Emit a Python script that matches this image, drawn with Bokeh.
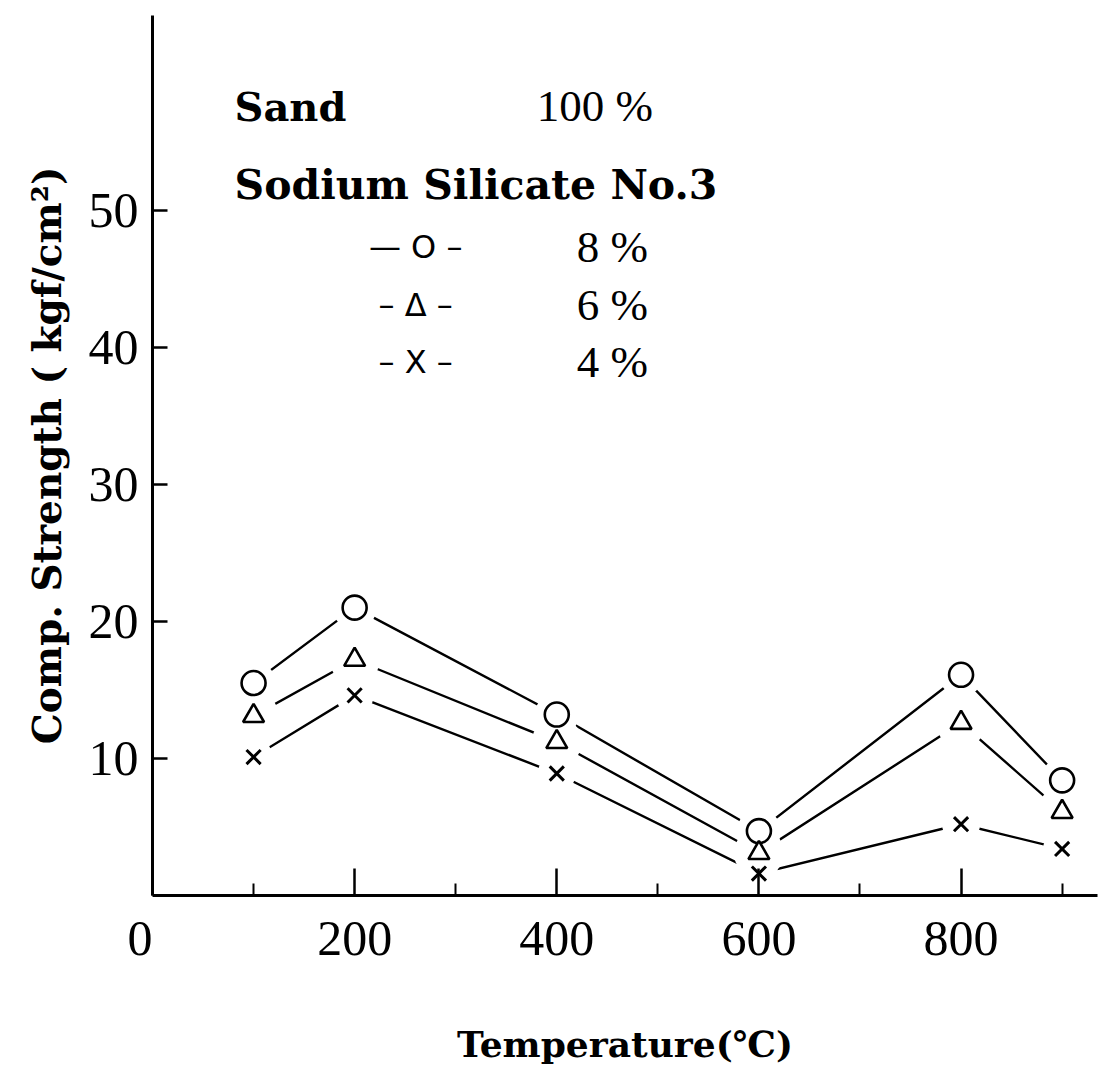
from bokeh.plotting import figure
from bokeh.models import FixedTicker, Label, Range1d
from bokeh.embed import file_html
from bokeh.resources import INLINE

# ---- data ----
temperature = [100, 200, 400, 600, 800, 900]
strength_8 = [15.5, 21.0, 13.2, 4.7, 16.1, 8.4]
strength_6 = [13.1, 17.2, 11.2, 3.1, 12.6, 6.1]
strength_4 = [10.1, 14.6, 8.9, 1.6, 5.2, 3.4]

x_ticks = [0, 200, 400, 600, 800]
x_minor_ticks = [100, 300, 500, 700, 900]
y_ticks = [10, 20, 30, 40, 50]

legend_rows = [("\u2014 O \u2013", "8 %"), ("\u2013 \u0394 \u2013", "6 %"), ("\u2013 X \u2013", "4 %")]

SERIF = "Liberation Serif"
BOLD_SERIF = "DejaVu Serif"

p = figure(width=1099, height=1067,
           x_range=Range1d(0, 935), y_range=Range1d(0, 64.2),
           output_backend="svg", toolbar_location=None,
           min_border_left=152, min_border_right=2,
           min_border_top=15, min_border_bottom=172)
p.outline_line_color = None
p.grid.visible = False
p.background_fill_color = "white"
p.border_fill_color = "white"

# ---- axes ----
xa = p.xaxis[0]
xa.ticker = FixedTicker(ticks=x_ticks, minor_ticks=x_minor_ticks)
xa.major_label_overrides = {x_ticks[0]: "0\u2007"}
xa.axis_line_width = 3
xa.axis_line_color = "black"
xa.major_tick_in = 27
xa.major_tick_out = 0
xa.major_tick_line_width = 2.5
xa.minor_tick_in = 12
xa.minor_tick_out = 0
xa.minor_tick_line_width = 2
xa.minor_tick_line_color = "black"
xa.major_label_text_font = SERIF
xa.major_label_text_font_size = "50px"
xa.major_label_text_color = "black"
xa.major_label_standoff = 14
xa.axis_label = "Temperature(\u2103)"
xa.axis_label_text_font = BOLD_SERIF
xa.axis_label_text_font_style = "bold"
xa.axis_label_text_font_size = "36px"
xa.axis_label_text_color = "black"
xa.axis_label_standoff = 54

ya = p.yaxis[0]
ya.ticker = FixedTicker(ticks=y_ticks, minor_ticks=[])
ya.axis_line_width = 3
ya.axis_line_color = "black"
ya.major_tick_in = 15
ya.major_tick_out = 0
ya.major_tick_line_width = 2.5
ya.minor_tick_line_color = None
ya.major_label_text_font = SERIF
ya.major_label_text_font_size = "50px"
ya.major_label_text_color = "black"
ya.major_label_standoff = 14
ya.axis_label = "Comp. Strength ( kgf/cm\u00b2)"
ya.axis_label_text_font = BOLD_SERIF
ya.axis_label_text_font_style = "bold"
ya.axis_label_text_font_size = "39px"
ya.axis_label_text_color = "black"
ya.axis_label_standoff = 16

# ---- series ----
series = [(strength_8, "circle", 24, 44),
          (strength_6, "triangle", 21, 50),
          (strength_4, "x", 20, 38)]

for ys, _, _, _ in series:
    p.line(temperature, ys, line_color="black", line_width=2.4)
for ys, _, _, halo in series:
    p.scatter(temperature, ys, marker="circle", size=halo,
              fill_color="white", line_color=None)
for ys, mk, sz, _ in series:
    if mk == "x":
        p.scatter(temperature, ys, marker="x", size=sz,
                  line_color="black", line_width=3)
    else:
        p.scatter(temperature, ys, marker=mk, size=sz,
                  fill_color="white", line_color="black", line_width=2.6)

# ---- annotation block (top left) ----
def dx(px):
    return (px - 152) / 1.01

def dy(py):
    return (895 - py) / 13.7

p.add_layout(Label(x=dx(234), y=dy(106), text="Sand", text_baseline="alphabetic",
                   text_font=BOLD_SERIF, text_font_style="bold",
                   text_font_size="40px", text_color="black"))
p.add_layout(Label(x=dx(536), y=dy(106), text="100 %", text_baseline="alphabetic",
                   text_font=SERIF, text_font_size="45px", text_color="black"))
p.add_layout(Label(x=dx(234), y=dy(185), text="Sodium Silicate No.3",
                   text_baseline="alphabetic",
                   text_font=BOLD_SERIF, text_font_style="bold",
                   text_font_size="41px", text_color="black"))

row_y = [247, 305, 362]
for (sym, pct), ry in zip(legend_rows, row_y):
    p.add_layout(Label(x=dx(415), y=dy(ry), text=sym, text_align="center",
                       text_baseline="middle", text_font="DejaVu Sans",
                       text_font_size="32px", text_color="black"))
    p.add_layout(Label(x=dx(576), y=dy(ry), text=pct, text_align="left",
                       text_baseline="middle", text_font=SERIF,
                       text_font_size="45px", text_color="black"))

open("out.html", "w").write(file_html(p, INLINE))
